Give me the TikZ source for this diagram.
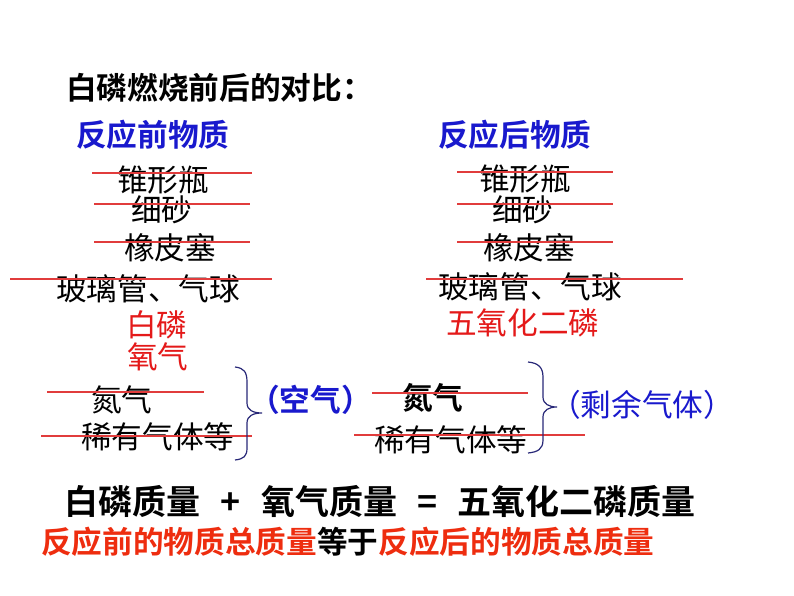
\documentclass[tikz,border=0pt]{standalone}
\usepackage{fontspec}
\setmainfont{Noto Sans CJK SC}
\newfontfamily\cjkb{Noto Sans CJK SC Bold}
\definecolor{hblue}{RGB}{25,25,205}
\definecolor{ired}{RGB}{228,25,25}
\definecolor{sred}{RGB}{225,60,60}
\definecolor{ored}{RGB}{238,45,15}
\definecolor{brc}{RGB}{40,40,120}
\tikzset{
  txt/.style={inner sep=0pt, anchor=west, font=\fontsize{23}{27}\selectfont},
  bld/.style={txt, font=\cjkb\fontsize{23}{27}\selectfont},
  hdr/.style={bld, text=hblue},
  redtxt/.style={txt, text=ired},
  strike/.style={draw=sred, line width=1.4pt},
  brace/.style={draw=brc, line width=0.9pt},
}
\begin{document}
\begin{tikzpicture}[x=0.75pt,y=-0.75pt]
\useasboundingbox (0,0) rectangle (794,596);
\fill[white] (0,0) rectangle (794,596);
% title
\node[bld] (title) at (66,88) {白磷燃烧前后的对比：};
% headers
\node[hdr] (hl) at (76,135) {反应前物质};
\node[hdr] (hr) at (438,135) {反应后物质};
% left column
\node[txt] (l1) at (117,180) {锥形瓶};
\node[txt] (l2) at (131,210) {细砂};
\node[txt] (l3) at (124,248) {橡皮塞};
\node[txt] (l4) at (56,289) {玻璃管、气球};
\node[redtxt] (l5) at (126,325) {白磷};
\node[redtxt] (l6) at (127,357) {氧气};
\node[txt] (l7) at (91,400) {氮气};
\node[txt] (l8) at (81,437) {稀有气体等};
\node[hdr] (air) at (249,400) {（空气）};
% right column
\node[txt] (r1) at (479,179) {锥形瓶};
\node[txt] (r2) at (492,210) {细砂};
\node[txt] (r3) at (483,248) {橡皮塞};
\node[txt] (r4) at (438,287) {玻璃管、气球};
\node[redtxt] (r5) at (446,323) {五氧化二磷};
\node[bld] (r7) at (402,398) {氮气};
\node[txt] (r8) at (374,440) {稀有气体等};
\node[txt, text=hblue] (rest) at (550,405) {（剩余气体）};
% strike lines left
\draw[strike] (92,173) -- (252,173);
\draw[strike] (94,204) -- (250,204);
\draw[strike] (94,242) -- (250,242);
\draw[strike] (10,279) -- (272,279);
\draw[strike] (47,392) -- (204,392);
\draw[strike] (41,436) -- (252,436);
% strike lines right
\draw[strike] (457,172) -- (613,172);
\draw[strike] (457,204) -- (613,204);
\draw[strike] (457,242) -- (613,242);
\draw[strike] (426,279) -- (683,279);
\draw[strike] (372,393) -- (528,393);
\draw[strike] (354,435) -- (585,435);
% braces
\draw[brace] (235,367) .. controls (244,368) and (247,372) .. (247,382)
  -- (247,403) .. controls (247,410) and (253,413) .. (262,413)
  .. controls (253,413) and (247,416) .. (247,423)
  -- (247,448) .. controls (247,456) and (244,459) .. (235,460);
\draw[brace] (528,362) .. controls (538,363) and (543,367) .. (543,377)
  -- (543,397) .. controls (543,404) and (549,407) .. (557,407)
  .. controls (549,407) and (543,410) .. (543,417)
  -- (543,440) .. controls (543,449) and (538,452) .. (528,453);
% bottom lines
\node[bld, font=\cjkb\fontsize{25.5}{30}\selectfont] (eq) at (64,502)
  {白磷质量\hspace{0.6em}+\hspace{0.6em}氧气质量\hspace{0.6em}=\hspace{0.6em}五氧化二磷质量};
\node[bld, text=ored] (concl) at (41,542)
  {反应前的物质总质量\textcolor{black}{等于}反应后的物质总质量};
\end{tikzpicture}
\end{document}
